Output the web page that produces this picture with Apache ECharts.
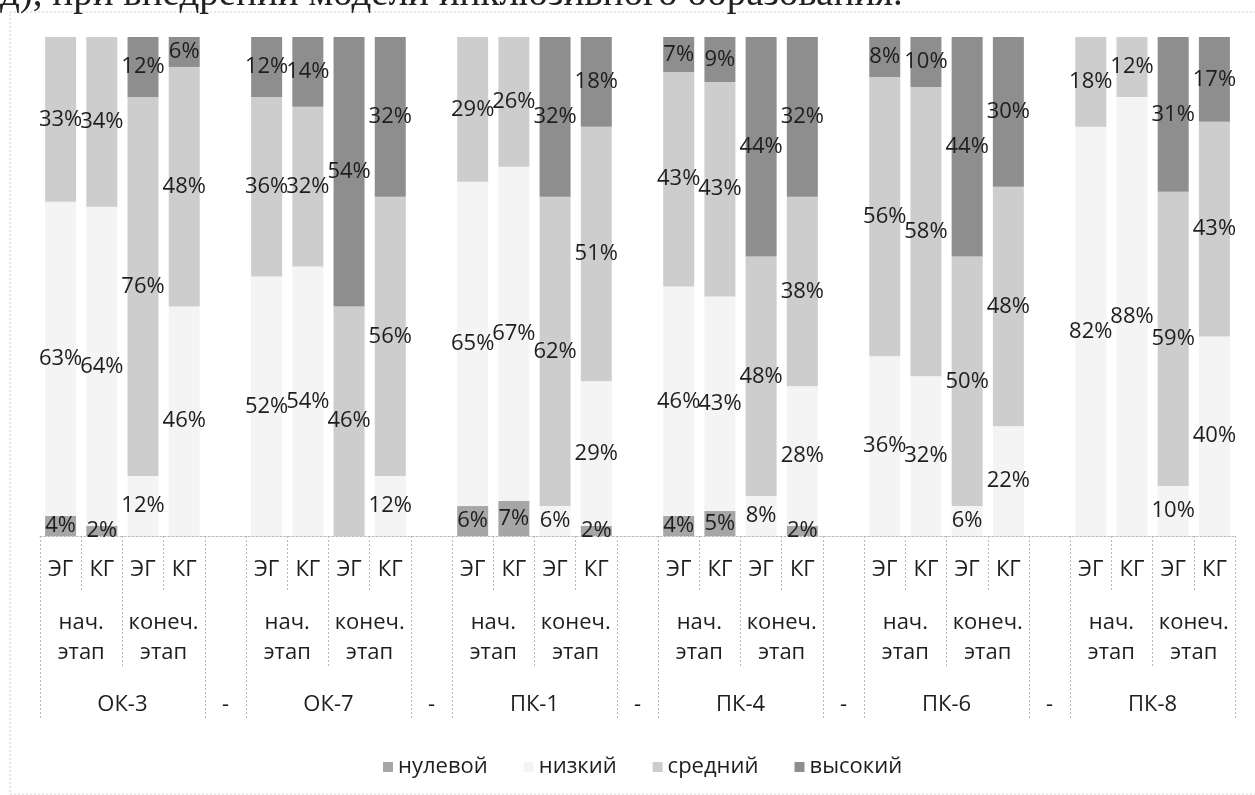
<!DOCTYPE html>
<html>
<head>
<meta charset="utf-8">
<title>Уровни сформированности компетенций</title>
<script src="https://cdn.jsdelivr.net/npm/echarts@6/dist/echarts.min.js"></script>
<style>
html,body{margin:0;padding:0;background:#fff;}
#main{width:1255px;height:795px;}
</style>
</head>
<body>
<div id="main"></div>
<script>
// подписи оси
var competences = ['ОК-3', 'ОК-7', 'ПК-1', 'ПК-4', 'ПК-6', 'ПК-8'];
var stages = ['нач.\nэтап', 'конеч.\nэтап'];
var groups = ['ЭГ', 'КГ'];
var separatorLabel = '-';

// проценты: ЭГ нач, КГ нач, ЭГ конеч, КГ конеч для каждой компетенции
var zeroLevel   = [4, 2, 0, 0,    0, 0, 0, 0,     6, 7, 0, 2,     4, 5, 0, 2,     0, 0, 0, 0,     0, 0, 0, 0];
var lowLevel    = [63, 64, 12, 46, 52, 54, 0, 12,  65, 67, 6, 29,  46, 43, 8, 28,  36, 32, 6, 22,  82, 88, 10, 40];
var mediumLevel = [33, 34, 76, 48, 36, 32, 46, 56, 29, 26, 62, 51, 43, 43, 48, 38, 56, 58, 50, 48, 18, 12, 59, 43];
var highLevel   = [0, 0, 12, 6,   12, 14, 54, 32, 0, 0, 32, 18,   7, 9, 44, 32,   8, 10, 44, 30,  0, 0, 31, 17];

var levelNames = ['нулевой', 'низкий', 'средний', 'высокий'];
var levelColors = ['#a6a6a6', '#f4f4f4', '#cdcdcd', '#8e8e8e'];

var FONT = '"Open Sans", "Noto Sans", sans-serif';
var TEXT_COLOR = '#1e1e1e';

var barsPerBlock = groups.length * stages.length; // 4 столбца на компетенцию
var slot = barsPerBlock + 1;                        // + пустая колонка-разделитель
var catCount = competences.length * slot - 1;       // 29

// вставляем пустые колонки между компетенциями
function spread(values){
  var res = [];
  for(var i=0;i<competences.length;i++){
    if(i > 0) res.push(null);
    for(var j=0;j<barsPerBlock;j++){
      var v = values[i*barsPerBlock + j];
      res.push(v ? v : null);
    }
  }
  return res;
}

var level1 = [];
for(var i=0;i<catCount;i++){
  var k = i % slot;
  level1.push(k < barsPerBlock ? groups[k % groups.length] : '');
}

// точки на половинах колонок: 2*29+1
var level2 = [], level3 = [];
for(var p=0;p<=catCount*2;p++){
  var r = p % (slot*2);
  var b = Math.floor(p / (slot*2));
  level2.push(r === 2 ? stages[0] : (r === 6 ? stages[1] : ''));
  level3.push(r === 4 ? competences[b] : (r === 9 ? separatorLabel : ''));
}

var tickStyle = {color:'#b9b9b9', width:1, type:[2,2]};

function tickAxis(len, test){
  return {
    type:'category', data:level1, position:'bottom',
    axisLine:{show:false}, axisLabel:{show:false},
    axisTick:{show:true, length:len, lineStyle:tickStyle,
      interval:function(idx){ return test(idx); }}
  };
}

function labelAxis(data, margin, lineHeight){
  return {
    type:'category', data:data, boundaryGap:false, position:'bottom',
    axisLine:{show:false}, axisTick:{show:false},
    axisLabel:{interval:0, margin:margin, lineHeight:lineHeight,
      fontSize:22, color:TEXT_COLOR, fontFamily:FONT}
  };
}

var seriesValues = [zeroLevel, lowLevel, mediumLevel, highLevel];
var series = [];
for(var s=0;s<levelNames.length;s++){
  series.push({
    name:levelNames[s],
    type:'bar',
    stack:'total',
    barWidth:31,
    xAxisIndex:0,
    data:spread(seriesValues[s]),
    itemStyle:{color:levelColors[s]},
    label:{
      show:true, position:'inside',
      fontSize:22, fontFamily:FONT, color:TEXT_COLOR,
      formatter:function(pr){ return pr.value ? pr.value + '%' : ''; }
    }
  });
}

var chart = echarts.init(document.getElementById('main'), null, {renderer:'canvas'});
chart.setOption({
  animation:false,
  backgroundColor:'#ffffff',
  graphic:[
    {type:'rect', silent:true, shape:{x:10, y:12, width:1400, height:782},
      style:{fill:'none', stroke:'#d0d0d0', lineWidth:1, lineDash:[2,2]}},
    {type:'text', silent:true, x:0, y:14,
      style:{text:'д), при внедрении модели инклюзивного образования.',
        font:'39px "Liberation Serif", serif', fill:'#222', verticalAlign:'bottom'}}
  ],
  grid:{left:40, right:20, top:37, bottom:259, containLabel:false},
  legend:{
    data:levelNames, top:751, left:378,
    icon:'rect', itemWidth:10, itemHeight:10, itemGap:36,
    textStyle:{fontSize:22, color:TEXT_COLOR, fontFamily:FONT}
  },
  xAxis:[
    {
      type:'category', data:level1, position:'bottom',
      axisLine:{show:true, lineStyle:tickStyle},
      axisTick:{show:true, length:56, interval:0, lineStyle:tickStyle},
      axisLabel:{interval:0, margin:22, lineHeight:24, fontSize:22, color:TEXT_COLOR, fontFamily:FONT}
    },
    tickAxis(131, function(idx){ return idx % slot === 2; }),
    tickAxis(184, function(idx){ var m = idx % slot; return m === 0 || m === barsPerBlock; }),
    labelAxis(level2, 72, 30),
    labelAxis(level3, 157, 24)
  ],
  yAxis:{type:'value', min:0, max:100, show:false},
  series:series
});
</script>
</body>
</html>
